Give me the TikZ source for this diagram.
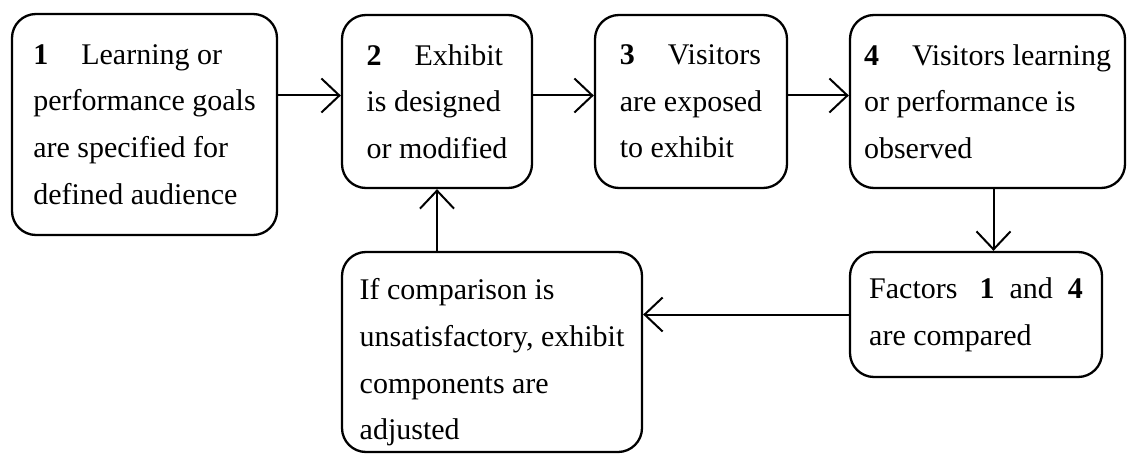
\documentclass[tikz,border=0pt]{standalone}
\usepackage{fontspec}
\setmainfont{Liberation Serif}
\usetikzlibrary{arrows.meta}

\newcommand{\stepno}[1]{\textbf{#1}\hspace{1.1em}}

\begin{document}
\begin{tikzpicture}[x=0.5pt,y=-0.5pt,
	stage/.style={draw, line width=1.15pt, rounded corners=12pt, align=left, inner sep=0pt, font=\fontsize{15pt}{23.3pt}\selectfont},
	link/.style={-{Straight Barb[length=9pt,width=17pt]}, line width=1pt}]
	\useasboundingbox (0,0) rectangle (1127,454);

	% top row
	\node[stage, minimum width=132.5pt, minimum height=110.5pt] (goals) at (144.5,124.5) {\stepno{1}Learning or\\performance goals\\are specified for\\defined audience};
	\node[stage, minimum width=95pt, minimum height=86.5pt] (exhibit) at (437,101.5) {\stepno{2}Exhibit\\is designed\\or modified};
	\node[stage, minimum width=96pt, minimum height=86.5pt] (exposed) at (691,101.5) {\stepno{3}Visitors\\are exposed\\to exhibit};
	\node[stage, minimum width=137.5pt, minimum height=86.5pt] (observed) at (987.5,101.5) {\stepno{4}Visitors learning\\or performance is\\observed};

	% bottom row
	\node[stage, minimum width=126pt, minimum height=62.5pt] (compared) at (976,314.5) {Factors\hspace{11pt}\textbf{1}\enspace and\enspace\textbf{4}\\are compared};
	\node[stage, minimum width=150pt, minimum height=100pt] (adjusted) at (492,352) {\rule{0pt}{21pt}If comparison is\\unsatisfactory, exhibit\\components are\\adjusted};

	% arrows
	\draw[link] ([yshift=3pt]exhibit.west -| goals.east) -- ([yshift=3pt]exhibit.west);
	\draw[link] ([yshift=3pt]exhibit.east) -- ([yshift=3pt]exposed.west);
	\draw[link] ([yshift=3pt]exposed.east) -- ([yshift=3pt]observed.west);
	\draw[link] ([xshift=3pt]observed.south) -- ([xshift=3pt]observed.south |- compared.north);
	\draw[link] (compared.west) -- (compared.west -| adjusted.east);
	\draw[link] (exhibit.south |- adjusted.north) -- (exhibit.south);
\end{tikzpicture}
\end{document}
